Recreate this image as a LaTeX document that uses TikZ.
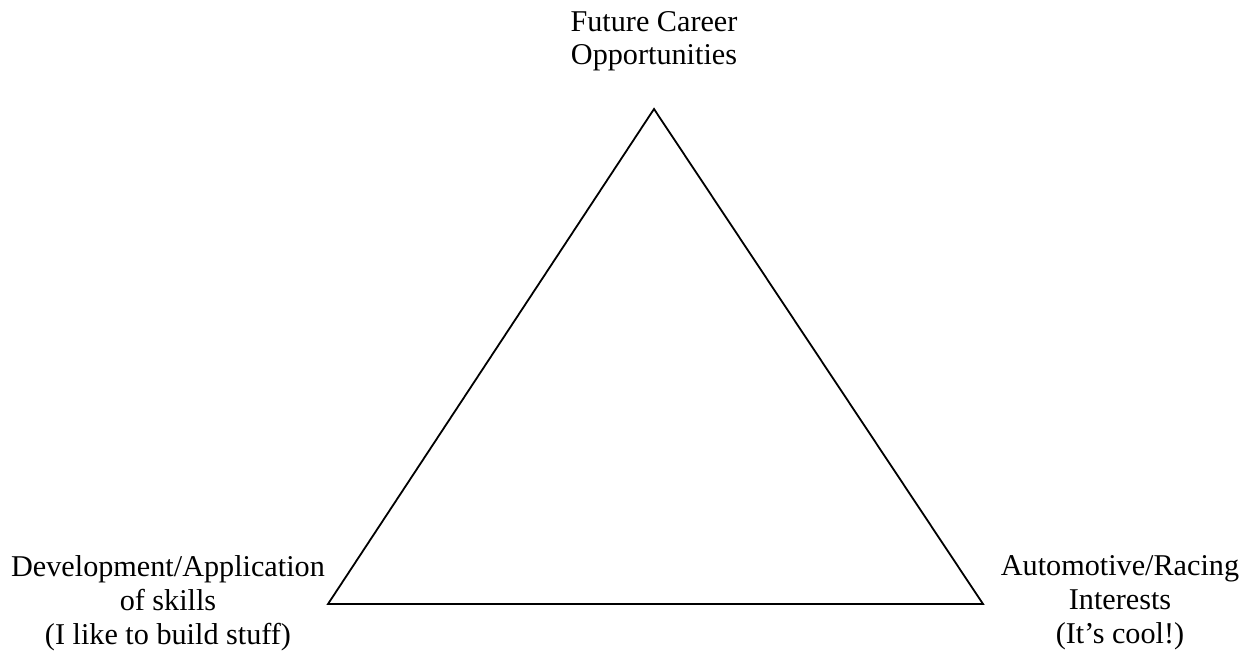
\documentclass[tikz,border=0pt]{standalone}
\usepackage{fontspec}
\setmainfont{Liberation Serif}
\begin{document}
\begin{tikzpicture}[x=1pt,y=-1pt,
  lbl/.style={align=center,inner sep=0pt,font=\fontsize{30.2}{34}\selectfont,anchor=base},
  edge/.style={line width=1.8pt,line join=miter}]
\useasboundingbox (0,0) rectangle (1250,655);
\coordinate (apex) at (654,109);
\coordinate (bl) at (328,604);
\coordinate (br) at (983,604);
\draw[edge] (apex) -- (br) -- (bl) -- cycle;
\node[lbl,font=\fontsize{30.2}{33}\selectfont] (top) at (654,65) {Future Career\\Opportunities};
\node[lbl] (left) at (168,644) {Development/Application\\of skills\\(I like to build stuff)};
\node[lbl] (right) at (1120,643) {Automotive/Racing\\Interests\\(It’s cool!)};
\end{tikzpicture}
\end{document}
